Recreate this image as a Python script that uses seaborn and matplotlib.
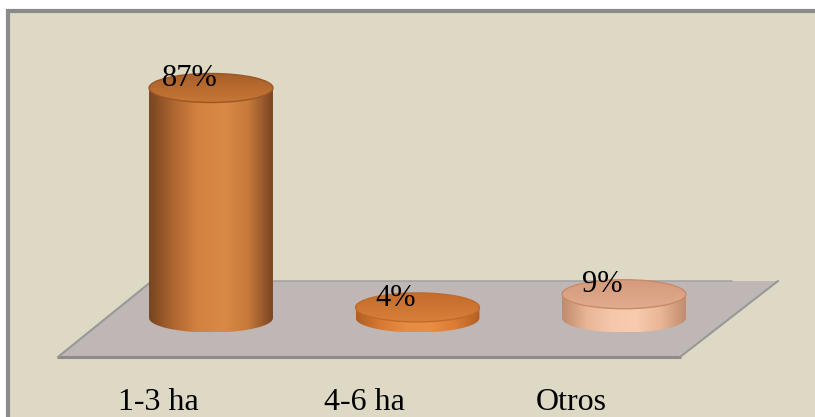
import numpy as np
import matplotlib
matplotlib.use("Agg")
import matplotlib.pyplot as plt
from matplotlib.patches import Ellipse, Polygon, Rectangle, PathPatch
from matplotlib.path import Path
from matplotlib.colors import LinearSegmentedColormap
import seaborn as sns

# Share of farms by size
categories = ["1-3 ha", "4-6 ha", "Otros"]
values = [87, 4, 9]
value_labels = ["87%", "4%", "9%"]

# Shading of each cylinder: side (left -> right) and top (back -> front)
side_stops = [
    ["#774420", "#b06732", "#d4823f", "#d98a45", "#c77a3b", "#7a4520"],
    ["#b05e22", "#d97a34", "#e88c44", "#e98e46", "#db7c35", "#b35f22"],
    ["#c08a6c", "#e8b597", "#f5c8aa", "#f7cbad", "#e9b596", "#c28c6e"],
]
top_stops = [
    ["#a65d28", "#b86b30", "#c67736"],
    ["#c36c2c", "#cd7633", "#d88039"],
    ["#d49a7b", "#dba285", "#e2ac8f"],
]
rim_colors = ["#9c5626", "#c06a2b", "#c98a6a"]

W, H = 815, 417
sns.set_theme(style="white")
plt.rcParams["font.family"] = ["Liberation Serif", "DejaVu Serif"]

fig = plt.figure(figsize=(W / 100, H / 100), dpi=100, facecolor="white")
ax = fig.add_axes([0, 0, 1, 1])

sns.barplot(x=categories, y=values, width=0.6, saturation=1, color="#d98a45", ax=ax)

# scale: category spacing and percent-to-pixel ratio
unit_x = 206.5
x_origin = 211.0
unit_y = 230.0 / 87.0
y_origin = 318.0
xlim = (-x_origin / unit_x, (W - x_origin) / unit_x)
ylim = (-(H - y_origin) / unit_y, y_origin / unit_y)


def fig_xy(px, py):
    return (px / W, 1 - py / H)


# chart frame
frame = Rectangle(fig_xy(8, 11), (W + 10) / W, -(H + 10) / H, transform=ax.transAxes,
                  facecolor="#ddd9c4", edgecolor="#8a8a8a", linewidth=3, zorder=0)
ax.add_patch(frame)

# floor plane
floor_pts = [fig_xy(58, 357), fig_xy(152, 281), fig_xy(778, 281), fig_xy(680, 357)]
ax.add_patch(Polygon(floor_pts, closed=True, transform=ax.transAxes,
                     facecolor="#bfb7b5", edgecolor="none", zorder=1))
ax.plot(*zip(fig_xy(58, 357), fig_xy(680, 357)), transform=ax.transAxes,
        color="#8e8c8b", lw=2.2, zorder=1.5)
ax.plot(*zip(fig_xy(58, 357), fig_xy(152, 281)), transform=ax.transAxes,
        color="#9a9897", lw=1.5, zorder=1.5)
ax.plot(*zip(fig_xy(680, 357), fig_xy(778, 281)), transform=ax.transAxes,
        color="#9a9897", lw=1.5, zorder=1.5)
ax.plot(*zip(fig_xy(152, 281), fig_xy(732, 281)), transform=ax.transAxes,
        color="#a8a3a1", lw=1.2, zorder=1.5)

ry = 14.5 / unit_y  # half-height of the ellipses in data units

bars = [p for p in ax.patches if isinstance(p, Rectangle) and p is not frame]
bars = sorted(bars, key=lambda p: p.get_x())[:len(values)]

for i, (bar, v) in enumerate(zip(bars, values)):
    x0 = bar.get_x()
    w = bar.get_width()
    h = bar.get_height()
    xc = x0 + w / 2
    hw = w / 2
    bar.set_visible(False)

    # side of the cylinder: body plus lower half of the base ellipse
    theta = np.linspace(np.pi, 2 * np.pi, 80)
    verts = [(xc - hw, h)] + list(zip(xc + hw * np.cos(theta), ry * np.sin(theta))) + [(xc + hw, h), (xc - hw, h)]
    codes = [Path.MOVETO] + [Path.LINETO] * (len(verts) - 2) + [Path.CLOSEPOLY]
    side = PathPatch(Path(verts, codes), facecolor="none", edgecolor="none", transform=ax.transData, zorder=3)
    ax.add_patch(side)
    cmap = LinearSegmentedColormap.from_list(f"side{i}", side_stops[i])
    grad = np.linspace(0, 1, 256).reshape(1, -1)
    im = ax.imshow(grad, cmap=cmap, extent=[xc - hw, xc + hw, -ry, h], aspect="auto",
                   origin="lower", zorder=3, interpolation="bilinear")
    im.set_clip_path(side)

    # top face
    top = Ellipse((xc, h), 2 * hw, 2 * ry, facecolor="none", edgecolor=rim_colors[i],
                  linewidth=1.0, transform=ax.transData, zorder=4.5)
    ax.add_patch(top)
    tcmap = LinearSegmentedColormap.from_list(f"top{i}", top_stops[i])
    tgrad = np.linspace(1, 0, 128).reshape(-1, 1)
    tim = ax.imshow(tgrad, cmap=tcmap, extent=[xc - hw, xc + hw, h - ry, h + ry], aspect="auto",
                    origin="lower", zorder=4, interpolation="bilinear")
    tim.set_clip_path(top)

    # value label
    ax.text(xc - 0.105, v + 0.7, value_labels[i], ha="center", va="baseline",
            fontsize=22, color="black", zorder=10)

# category labels below the floor
for i, cat in enumerate(categories):
    ax.text(i - 0.255, (y_origin - 410) / unit_y, cat, ha="center", va="baseline",
            fontsize=23, color="black", zorder=10)

ax.set_xlim(*xlim)
ax.set_ylim(*ylim)
ax.axis("off")

fig.savefig("out.png", dpi=100, facecolor="white")
